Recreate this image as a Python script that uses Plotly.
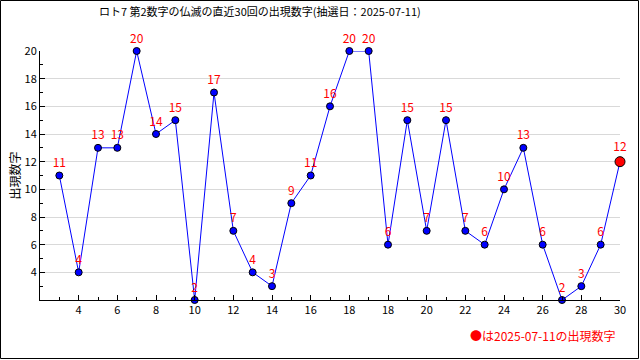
import plotly.graph_objects as go

# data
values = [11, 4, 13, 13, 20, 14, 15, 2, 17, 7, 4, 3, 9, 11, 16, 20, 20, 6, 15, 7, 15, 7, 6, 10, 13, 6, 2, 3, 6, 12]
positions = list(range(len(values)))
x_tick_positions = list(range(1, 30, 2))
x_tick_labels = ["4", "6", "8", "10", "12", "14", "16", "18", "18", "20", "22", "24", "26", "28", "30"]
x_minor_positions = list(range(0, 30, 2))
y_tick_values = [4, 6, 8, 10, 12, 14, 16, 18, 20]
y_minor_values = [3, 5, 7, 9, 11, 13, 15, 17, 19]
title_text = "ロト7 第2数字の仏滅の直近30回の出現数字(抽選日：2025-07-11)"
y_title = "出現数字"
note_text = "●は2025-07-11の出現数字"

FONT = "Noto Sans CJK JP"

fig = go.Figure()
fig.add_trace(go.Scatter(
    x=positions, y=values, mode="lines+markers+text",
    line=dict(color="#0000ff", width=1),
    marker=dict(color=["#0000ff"] * (len(values) - 1) + ["#ff0000"],
                size=[7] * (len(values) - 1) + [10], opacity=1,
                line=dict(color="black", width=1)),
    text=[str(v) for v in values], textposition="top center",
    textfont=dict(color="#ff0000", size=12, family=FONT),
    cliponaxis=False, showlegend=False, hoverinfo="skip",
))

fig.update_layout(
    width=640, height=360,
    margin=dict(l=40, r=20, t=51, b=60, autoexpand=False),
    paper_bgcolor="white", plot_bgcolor="white",
    font=dict(family=FONT, size=11, color="black"),
    title=dict(text=title_text, x=0.406, xanchor="center", y=0.967, yanchor="middle",
               font=dict(size=11, color="black", family=FONT)),
    xaxis=dict(range=[-1, 29], tickmode="array", tickvals=x_tick_positions, ticktext=x_tick_labels,
               ticks="inside", ticklen=5, tickcolor="black", showgrid=False, zeroline=False,
               showline=True, linecolor="black", linewidth=1, automargin=False,
               minor=dict(tickmode="array", tickvals=x_minor_positions, ticks="inside", ticklen=3,
                          tickcolor="black", showgrid=False),
               tickfont=dict(size=11, family=FONT)),
    yaxis=dict(range=[2, 20], tickmode="array", tickvals=y_tick_values,
               ticks="inside", ticklen=5, tickcolor="black", showgrid=True, gridcolor="#d9d9d9",
               zeroline=False, showline=True, linecolor="black", linewidth=1, automargin=False,
               minor=dict(tickmode="array", tickvals=y_minor_values, ticks="inside", ticklen=3,
                          tickcolor="black", showgrid=False),
               tickfont=dict(size=11, family=FONT)),
)

fig.add_annotation(text=y_title, xref="paper", yref="paper", x=(14 - 40) / 580, y=0.5,
                   xanchor="center", yanchor="middle", textangle=-90, showarrow=False,
                   font=dict(color="black", size=12, family=FONT))

fig.add_annotation(text=note_text, xref="paper", yref="paper", x=(618 - 40) / 580, y=(300 - 335) / 249,
                   xanchor="right", yanchor="middle", showarrow=False,
                   font=dict(color="#ff0000", size=12, family=FONT))

fig.add_shape(type="rect", xref="paper", yref="paper",
              x0=(0.5 - 40) / 580, x1=(638.5 - 40) / 580,
              y0=(300 - 358.5) / 249, y1=(300 - 0.5) / 249,
              line=dict(color="black", width=1), fillcolor="rgba(0,0,0,0)", layer="above")

fig.write_html("out.html", config={"displayModeBar": False, "staticPlot": True},
               post_script="document.body.style.margin='0';document.body.style.overflow='hidden';")
